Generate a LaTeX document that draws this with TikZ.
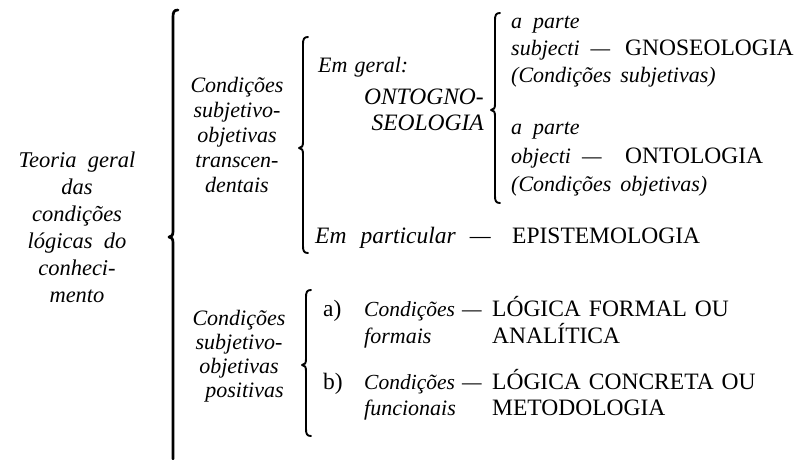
\documentclass[tikz,border=0pt]{standalone}
\usepackage{fontspec}
\setmainfont{Liberation Serif}
\newcommand{\mybrace}[5][]{%
  \draw[brc,#1] (#2+5,#3) .. controls (#2+1,#3) and (#2,#3+2) .. (#2,#3+7)
    -- (#2,#4-6) .. controls (#2,#4-2) and (#2-1,#4) .. (#2-4,#4)
    .. controls (#2-1,#4) and (#2,#4+2) .. (#2,#4+6)
    -- (#2,#5-7) .. controls (#2,#5-2) and (#2+1,#5) .. (#2+5,#5);}
\begin{document}
\begin{tikzpicture}[x=1pt,y=-1pt,
  it/.style={font=\fontsize{22}{25}\selectfont\itshape, inner sep=0pt},
  capstext/.style={font=\fontsize{23.5}{26}\selectfont, inner sep=0pt},
  brc/.style={line width=1.9pt, line cap=round, line join=round}]
\useasboundingbox (0,0) rectangle (803,459);
% big brace
\draw[brc, line width=2.7pt] (178,10) .. controls (174,10) and (173,12) .. (173,17)
  -- (173,231) .. controls (173,235) and (172,237) .. (169,237)
  .. controls (172,237) and (173,239) .. (173,243) -- (173,459);
\node[it, align=center, font=\fontsize{22.5}{27}\selectfont\itshape] (teoria) at (77,227.5)
  {Teoria\ \ geral\\das\\condições\\lógicas\ \ do\\conheci-\\mento};
% upper branch
\node[it, align=center] (trans) at (237,135)
  {Condições\\subjetivo-\\objetivas\\transcen-\\dentais};
\mybrace{303}{37}{148}{253}
\node[it, anchor=mid west] (emgeral) at (318,70) {Em\hspace{7pt}geral:};
\node[it, align=right, anchor=east, font=\fontsize{23.5}{26}\selectfont\itshape] (ontogno) at (484,110) {ONTOGNO-\\SEOLOGIA};
\mybrace{495}{13}{110}{203}
\node[it, anchor=mid west] (ap1) at (511,26) {a\ \ parte};
\node[it, anchor=mid west] (subj) at (511,53) {subjecti\ \ —};
\node[capstext, anchor=mid west] (gnos) at (625,53) {GNOSEOLOGIA};
\node[it, anchor=mid west] (cs) at (511,80) {(Condições\hspace{9pt}subjetivas)};
\node[it, anchor=mid west] (ap2) at (511,132) {a\ \ parte};
\node[it, anchor=mid west] (obj) at (511,161) {objecti\ \ —};
\node[capstext, anchor=mid west] (onto) at (625,161) {ONTOLOGIA};
\node[it, anchor=mid west] (co) at (511,189) {(Condições\hspace{9pt}objetivas)};
\node[it, anchor=mid west, font=\fontsize{23.5}{26}\selectfont\itshape] (empart) at (315,241) {Em\hspace{14pt}particular\hspace{14pt}—};
\node[capstext, anchor=mid west] (epis) at (512,241) {EPISTEMOLOGIA};
% lower branch
\node[it, align=center, font=\fontsize{22}{24}\selectfont\itshape] (posit) at (239,356)
  {Condições\\subjetivo-\\objetivas\\\ \ positivas};
\mybrace{306}{290}{365}{436}
\node[capstext, anchor=mid west] (a) at (323,314) {a)};
\node[it, anchor=mid west, font=\fontsize{21.5}{24}\selectfont\itshape] (ca) at (364,314) {Condições};
\node[it, anchor=mid west] (da) at (462,314) {—};
\node[it, anchor=mid west] (fa) at (364,341) {formais};
\node[capstext, anchor=mid west] (lf) at (492,314) {LÓGICA\hspace{8pt}FORMAL\hspace{8pt}OU};
\node[capstext, anchor=mid west] (an) at (492,341) {ANALÍTICA};
\node[capstext, anchor=mid west] (b) at (323,387) {b)};
\node[it, anchor=mid west, font=\fontsize{21.5}{24}\selectfont\itshape] (cb) at (364,387) {Condições};
\node[it, anchor=mid west] (db) at (462,387) {—};
\node[it, anchor=mid west] (fb) at (364,413) {funcionais};
\node[capstext, anchor=mid west] (lc) at (492,387) {LÓGICA\hspace{8pt}CONCRETA\hspace{8pt}OU};
\node[capstext, anchor=mid west] (me) at (492,413) {METODOLOGIA};
\end{tikzpicture}
\end{document}
